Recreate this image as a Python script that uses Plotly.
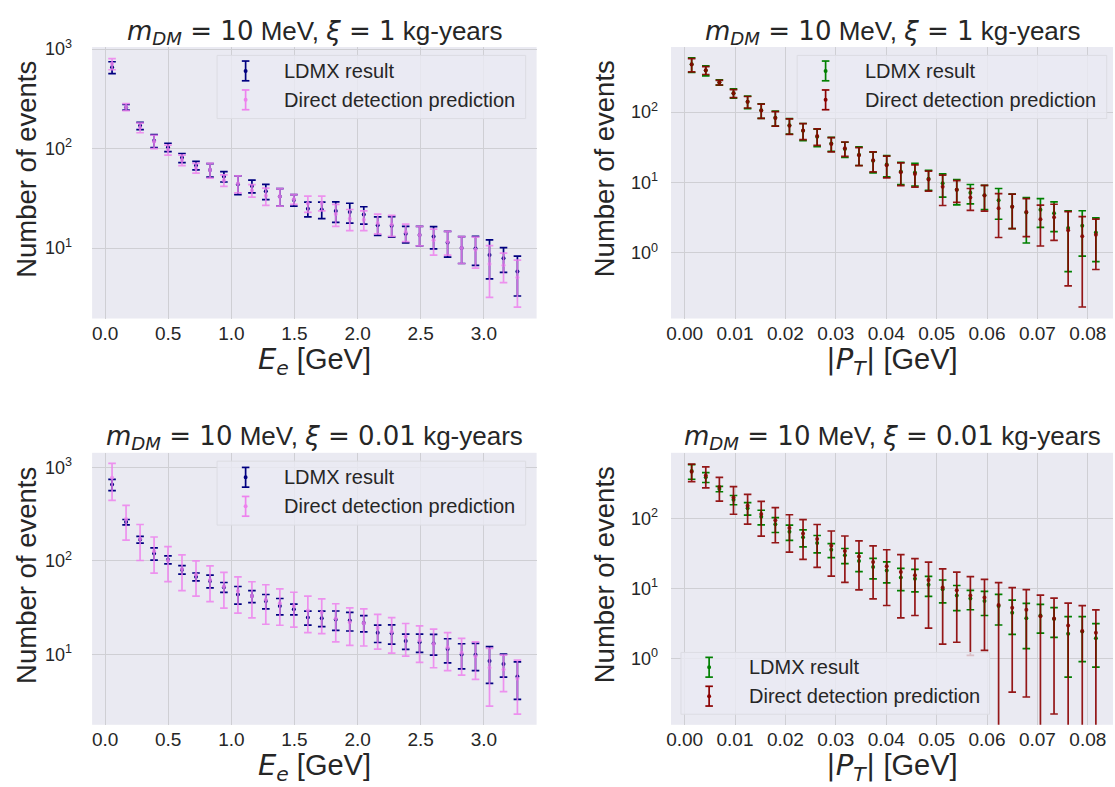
import plotly.graph_objects as go

# ---------------- data ----------------
E_centers = [0.055, 0.166, 0.277, 0.388, 0.498, 0.609, 0.720, 0.831, 0.941, 1.052,
             1.163, 1.273, 1.384, 1.495, 1.606, 1.716, 1.827, 1.938, 2.049, 2.159,
             2.270, 2.381, 2.491, 2.602, 2.713, 2.824, 2.934, 3.045, 3.156, 3.266]

PT_centers = [0.0014, 0.0042, 0.0069, 0.0097, 0.0125, 0.0152, 0.0180, 0.0208, 0.0235, 0.0263,
              0.0291, 0.0318, 0.0346, 0.0374, 0.0401, 0.0429, 0.0457, 0.0484, 0.0512, 0.0540,
              0.0567, 0.0595, 0.0623, 0.0650, 0.0678, 0.0706, 0.0733, 0.0761, 0.0789, 0.0816]

LDMX_E = [655, 260, 169, 120, 103, 80.6, 67.6, 61, 52.4, 43.8, 42, 37.2, 33, 30.4, 24.8,
          24.4, 23.6, 23, 21.7, 17, 16.8, 13.9, 13.5, 13.1, 11.4, 10, 9.9, 8.5, 7.9, 5.8]
LDMX_E_err = [90, 17, 14, 18, 10, 8.5, 6.6, 9.5, 6.3, 9.4, 6.2, 6.5, 6.6, 4, 4.2,
              4.6, 5.5, 5.2, 4.3, 3.6, 3.9, 2.6, 3, 3.3, 3.3, 3, 3.2, 3.6, 2.2, 2.5]

DD_E_1 = [710, 261, 162, 118, 97, 76.6, 63.8, 60.7, 48, 44.5, 37.9, 33.5, 33, 31, 28,
          28.4, 22, 19.7, 19.3, 17.9, 17.2, 14.5, 13.5, 12, 11.6, 10, 9.6, 6.9, 6.7, 5.05]
DD_E_1_err = [91, 21, 18, 18, 11, 9.2, 7.2, 10.2, 6.3, 8.7, 5.4, 6.6, 6.6, 3.5, 5.2,
              4.8, 5.5, 4.7, 4.3, 4, 4.1, 2.9, 3, 3.5, 3.1, 3, 3.3, 3.7, 2.2, 2.5]

DD_E_001 = [773, 280, 173, 127, 101, 82, 71, 62.6, 53.2, 47.6, 42.2, 38.3, 35.3, 32.9, 29.5,
            28, 24.2, 22, 21.5, 19.1, 17.5, 15.5, 14.2, 12.9, 11.9, 10.4, 9.5, 7.2, 6.9, 5.5]
DD_E_001_err = [329, 113, 72, 53, 41, 34, 29, 26, 22, 20, 17.6, 17.3, 14.8, 13.3, 12.4,
                11.3, 10.6, 9.5, 9.2, 7.7, 7.2, 5.9, 6, 5.7, 5.2, 4.4, 4.1, 4.4, 2.9, 3.2]

LDMX_PT = [477, 389, 264, 185, 140, 106, 83, 64.6, 54, 44.7, 35.6, 29.9, 24.7, 20.3, 18,
           14.3, 13.8, 11.3, 9.7, 7.9, 7.15, 6.6, 5.6, 4.5, 3.74, 4.1, 3.65, 2.25, 2.43, 1.94]
LDMX_PT_err = [113, 62, 23, 28, 28, 25, 20, 16, 14.7, 12.4, 8, 7.3, 7.3, 6.6, 6,
               5, 4.9, 3.6, 3.5, 3.1, 2.2, 2.5, 2.6, 2.3, 2.36, 1.8, 1.65, 1.71, 1.53, 1.19]

DD_PT_1 = [472, 391, 262, 184, 140, 105, 82, 64, 54.5, 45.5, 35.2, 30.5, 24.3, 20.6, 17.6,
           14.0, 13.2, 11.0, 8.7, 7.9, 6.1, 6.5, 4.3, 4.5, 3.8, 3.0, 3.2, 2.1, 1.72, 1.8]
DD_PT_1_err = [100, 50, 20, 24, 26, 24, 19, 16, 14, 12, 8, 7, 7, 6.5, 6,
               5, 4.6, 3.5, 4.0, 2.7, 2.1, 2.6, 2.65, 2.3, 2.1, 1.75, 1.7, 1.76, 1.55, 1.22]

DD_PT_001 = [467, 411, 282, 200, 152, 116, 94, 73, 61, 51, 40.6, 34.2, 28.7, 23.9, 20.7,
             17.1, 15.4, 13.2, 10.3, 9.4, 7.9, 7.4, 5.8, 5.3, 4.96, 4.0, 3.71, 2.96, 2.46, 2.33]
DD_PT_001_err = [130, 137, 105, 85, 69, 60, 49, 40, 35, 31, 25.6, 22, 19.2, 16.8, 15,
                 13.3, 11.3, 10.5, 8.7, 7.7, 6.8, 6.1, 6.3, 4.97, 4.68, 4.0, 3.55, 3.2, 3.2, 2.6]

E_ticks = [0.0, 0.5, 1.0, 1.5, 2.0, 2.5, 3.0]
PT_ticks = [0.00, 0.01, 0.02, 0.03, 0.04, 0.05, 0.06, 0.07, 0.08]
LOG_TICKS = [1, 10, 100, 1000]
LOG_LABELS = ["10<sup>0</sup>", "10<sup>1</sup>", "10<sup>2</sup>", "10<sup>3</sup>"]
LEGEND_LABELS = ["LDMX result", "Direct detection prediction"]

NAVY, VIOLET, GREEN, DARKRED = "#000080", "#EE82EE", "#008000", "#8B0000"

# ---------------- geometry (pixels) ----------------
W, H = 1115, 787
FONT = "Liberation Sans, Arial, sans-serif"
TXT = "#262626"
BG = "#EAEAF2"
GRID = "#cfcfd4"


def px(x):
    return x / W


def py(y):
    return 1 - y / H


# plot-area boxes [x0, x1, y0(top), y1(bottom)]
boxes = {
    1: (87.5, 534, 37.5, 312.5),
    2: (669, 1113, 37.5, 312.5),
    3: (87.5, 534, 448.5, 724),
    4: (669, 1113, 448.5, 724),
}
yranges = {1: [0.292, 3.02], 2: [-0.933, 2.923], 3: [0.247, 3.156], 4: [-0.950, 2.939]}
xranges = {1: [-0.103, 3.418], 2: [-0.0027, 0.0850], 3: [-0.103, 3.418], 4: [-0.0027, 0.0850]}

fig = go.Figure()


def add_err(idx, x, y, err, color, opacity, name):
    suffix = "" if idx == 1 else str(idx)
    fig.add_trace(go.Scatter(
        x=x, y=y, mode="markers", name=name, showlegend=False,
        xaxis="x" + suffix, yaxis="y" + suffix, opacity=opacity,
        marker=dict(color=color, size=4),
        error_y=dict(type="data", array=err, visible=True, color=color,
                     thickness=1.7, width=3.8),
    ))


add_err(1, E_centers, LDMX_E, LDMX_E_err, NAVY, 1.0, LEGEND_LABELS[0])
add_err(1, E_centers, DD_E_1, DD_E_1_err, VIOLET, 0.85, LEGEND_LABELS[1])
add_err(2, PT_centers, LDMX_PT, LDMX_PT_err, GREEN, 1.0, LEGEND_LABELS[0])
add_err(2, PT_centers, DD_PT_1, DD_PT_1_err, DARKRED, 0.9, LEGEND_LABELS[1])
add_err(3, E_centers, LDMX_E, LDMX_E_err, NAVY, 1.0, LEGEND_LABELS[0])
add_err(3, E_centers, DD_E_001, DD_E_001_err, VIOLET, 0.85, LEGEND_LABELS[1])
add_err(4, PT_centers, LDMX_PT, LDMX_PT_err, GREEN, 1.0, LEGEND_LABELS[0])
add_err(4, PT_centers, DD_PT_001, DD_PT_001_err, DARKRED, 0.9, LEGEND_LABELS[1])

layout = dict(
    width=W, height=H, margin=dict(l=0, r=0, t=0, b=0),
    paper_bgcolor="white", plot_bgcolor=BG, showlegend=False,
    font=dict(family=FONT, color=TXT),
)

for idx, (x0, x1, y0, y1) in boxes.items():
    suffix = "" if idx == 1 else str(idx)
    is_e = idx in (1, 3)
    xt = E_ticks if is_e else PT_ticks
    nlog = 4 if is_e else 3
    layout["xaxis" + suffix] = dict(
        domain=[px(x0), px(x1)], anchor="y" + suffix, range=xranges[idx],
        tickvals=xt, ticktext=[("%.1f" if is_e else "%.2f") % v for v in xt],
        showgrid=True, gridcolor=GRID, gridwidth=1, zeroline=False, showline=False,
        ticks="", tickfont=dict(size=19, color=TXT), ticklabelstandoff=1,
    )
    layout["yaxis" + suffix] = dict(
        domain=[py(y1), py(y0)], anchor="x" + suffix, type="log", range=yranges[idx],
        tickvals=LOG_TICKS[:nlog], ticktext=LOG_LABELS[:nlog],
        showgrid=True, gridcolor=GRID, gridwidth=1, zeroline=False, showline=False,
        ticks="", tickfont=dict(size=18, color=TXT),
        ticklabelstandoff=(19 if is_e else 12),
    )

fig.update_layout(**layout)

# ---------------- titles & axis labels ----------------
MATH = "font-family:DejaVu Sans"


def title_text(xi):
    return ("<span style='%s'><i>m</i><sub><i>DM</i></sub> = 10</span> MeV, "
            "<span style='%s'><i>ξ</i> = %s</span> kg-years" % (MATH, MATH, xi))


E_LABEL = "<span style='%s'><i>E</i><sub><i>e</i></sub></span> [GeV]" % MATH
PT_LABEL = "<span style='%s'>|<i>P</i><sub><i>T</i></sub>|</span> [GeV]" % MATH

annotations = []
for idx, (x0, x1, y0, y1) in boxes.items():
    cx = (x0 + x1) / 2
    xi = "1" if idx in (1, 2) else "0.01"
    annotations.append(dict(
        text=title_text(xi), x=px(cx), y=py(y0 - 15), xref="paper", yref="paper",
        xanchor="center", yanchor="middle", showarrow=False,
        font=dict(size=26, color=TXT, family=FONT)))
    annotations.append(dict(
        text=E_LABEL if idx in (1, 3) else PT_LABEL, x=px(cx), y=py(y1 + 43),
        xref="paper", yref="paper", xanchor="center", yanchor="middle",
        showarrow=False, font=dict(size=29, color=TXT, family=FONT)))
    lab_x = 22 if idx in (1, 3) else 603
    annotations.append(dict(
        text="Number of events", x=px(lab_x), y=py((y0 + y1) / 2 - 14),
        xref="paper", yref="paper", xanchor="center", yanchor="middle",
        textangle=-90, showarrow=False, font=dict(size=27.5, color=TXT, family=FONT)))

# ---------------- legends (drawn manually) ----------------
legends = {
    1: dict(box=(213, 523, 46, 110), gx=241.7, tx=278, ys=(61.7, 91), colors=(NAVY, VIOLET)),
    2: dict(box=(795.7, 1106.7, 46, 110), gx=824.3, tx=861.7, ys=(61.7, 91), colors=(GREEN, DARKRED)),
    3: dict(box=(213, 523, 457, 521.7), gx=241.7, tx=278, ys=(473.3, 502.7), colors=(NAVY, VIOLET)),
    4: dict(box=(679, 989, 650.7, 713.3), gx=707.3, tx=745, ys=(665.7, 695), colors=(GREEN, DARKRED)),
}
shapes = []
for idx, lg in legends.items():
    bx0, bx1, by0, by1 = lg["box"]
    shapes.append(dict(type="rect", xref="paper", yref="paper",
                       x0=px(bx0), x1=px(bx1), y0=py(by1), y1=py(by0),
                       line=dict(color="#dcdce3", width=1),
                       fillcolor="rgba(234,234,242,0.8)", layer="above"))
    for k, (ey, col) in enumerate(zip(lg["ys"], lg["colors"])):
        gx = lg["gx"]
        shapes.append(dict(type="line", xref="paper", yref="paper",
                           x0=px(gx), x1=px(gx), y0=py(ey + 10), y1=py(ey - 10),
                           line=dict(color=col, width=1.7), layer="above"))
        for cy in (ey - 10, ey + 10):
            shapes.append(dict(type="line", xref="paper", yref="paper",
                               x0=px(gx - 3.8), x1=px(gx + 3.8), y0=py(cy), y1=py(cy),
                               line=dict(color=col, width=1.7), layer="above"))
        shapes.append(dict(type="circle", xref="paper", yref="paper",
                           x0=px(gx - 2), x1=px(gx + 2), y0=py(ey + 2), y1=py(ey - 2),
                           line=dict(width=0), fillcolor=col, layer="above"))
        annotations.append(dict(
            text=LEGEND_LABELS[k], x=px(lg["tx"]), y=py(ey), xref="paper", yref="paper",
            xanchor="left", yanchor="middle", showarrow=False,
            font=dict(size=20, color=TXT, family=FONT)))

fig.update_layout(annotations=annotations, shapes=shapes)
fig.write_html("out.html", config={"displayModeBar": False},
               post_script="document.body.style.margin='0';")
